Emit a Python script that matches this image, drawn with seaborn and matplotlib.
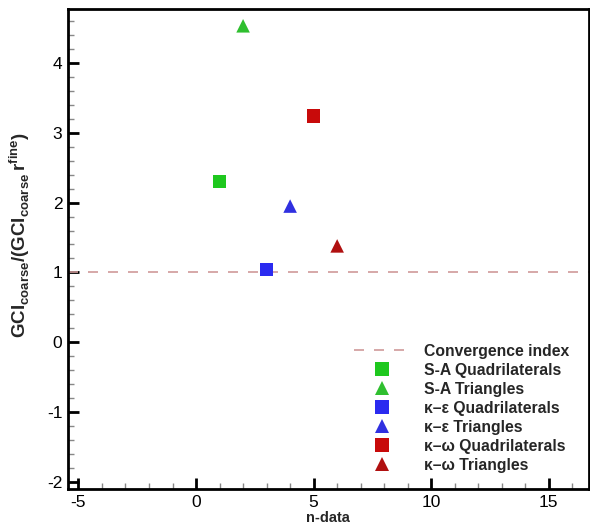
import matplotlib
matplotlib.use("Agg")
import matplotlib.pyplot as plt
import seaborn as sns
import pandas as pd
from matplotlib.ticker import MultipleLocator

# data
labels = ["S-A Quadrilaterals", "S-A Triangles",
          "κ–ε Quadrilaterals", "κ–ε Triangles",
          "κ–ω Quadrilaterals", "κ–ω Triangles"]
n_data = [1, 2, 3, 4, 5, 6]
ratio = [2.30, 4.53, 1.04, 1.95, 3.24, 1.38]
colors = ["#1ec81e", "#2fbf2f", "#2b2bf0", "#3030e0", "#c80a0a", "#b01010"]
markers = ["s", "^", "s", "^", "s", "^"]
conv_index = 1.0

sns.set_theme(style="white")
plt.rcParams["font.family"] = ["Liberation Sans", "DejaVu Sans"]
plt.rcParams["axes.unicode_minus"] = False
plt.rcParams["mathtext.fontset"] = "custom"
plt.rcParams["mathtext.rm"] = "Liberation Sans"
plt.rcParams["mathtext.bf"] = "Liberation Sans:bold"

df = pd.DataFrame({"n": n_data, "r": ratio, "label": labels})

fig = plt.figure(figsize=(5.9, 5.31), dpi=100)
ax = fig.add_axes([0.115, 0.079, 0.883, 0.904])

line = ax.axhline(conv_index, color="#d09a9a", lw=1.2, ls=(0, (6, 6)),
                  label="Convergence index", zorder=1)

sns.scatterplot(data=df, x="n", y="r", hue="label", style="label",
                palette=dict(zip(labels, colors)),
                markers=dict(zip(labels, markers)),
                hue_order=labels, style_order=labels,
                s=95, edgecolor="none", linewidth=0, ax=ax, legend=True, zorder=3)

ax.set_xlim(-5.45, 16.7)
ax.set_ylim(-2.1, 4.77)
ax.xaxis.set_major_locator(MultipleLocator(5))
ax.xaxis.set_minor_locator(MultipleLocator(1))
ax.yaxis.set_major_locator(MultipleLocator(1))
ax.yaxis.set_minor_locator(MultipleLocator(0.2))
ax.tick_params(which="major", direction="in", length=8, width=2, labelsize=12.5,
               colors="black", bottom=True, left=True, top=False, right=False, pad=4)
ax.tick_params(which="minor", direction="in", length=4, width=1, color="#888888",
               bottom=True, left=True)
for sp in ax.spines.values():
    sp.set_color("black")
    sp.set_linewidth(2)

ax.set_xlabel("n-data", fontsize=10.5, fontweight="bold", labelpad=1)
ax.set_ylabel(r"$\mathbf{GCI}_{\mathbf{coarse}}\mathbf{/(GCI}_{\mathbf{coarse}}\,\mathbf{r}^{\mathbf{fine}}\mathbf{)}$",
              fontsize=13.5, labelpad=6)
ax.yaxis.set_label_coords(-0.069, 0.53)

handles, labs = ax.get_legend_handles_labels()
hmap = dict(zip(labs, handles))
leg_handles = [line] + [hmap[l] for l in labels]
leg_labels = ["Convergence index"] + labels
leg = ax.legend(leg_handles, leg_labels, loc="lower right", bbox_to_anchor=(0.99, 0.005),
                frameon=False, handlelength=3.6, labelspacing=0.25,
                handletextpad=0.9, prop={"weight": "bold", "size": 11.3})
for h in leg.legend_handles[1:]:
    try:
        h.set_markersize(9.5)
    except Exception:
        pass

fig.savefig("out.png", dpi=100)
